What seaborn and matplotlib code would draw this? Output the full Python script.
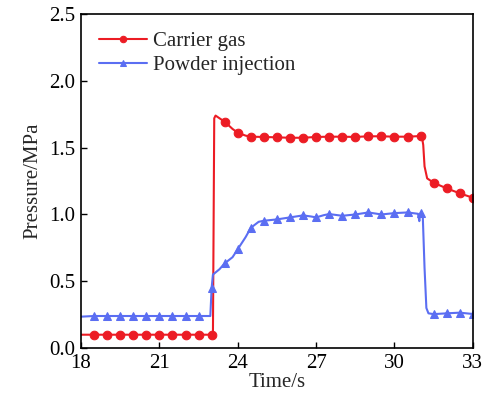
import numpy as np
import pandas as pd
import matplotlib
matplotlib.use("Agg")
import matplotlib.pyplot as plt
import seaborn as sns

# Carrier gas series
t_gas = [18.0, 18.5, 19.0, 19.5, 20.0, 20.5, 21.0, 21.5, 22.0, 22.5, 23.0, 23.05,
         23.1, 23.15, 23.3, 23.5, 23.8, 24.0, 24.3, 24.5, 25.0, 25.5, 26.0, 26.5,
         27.0, 27.5, 28.0, 28.5, 29.0, 29.5, 30.0, 30.5, 31.0, 31.05, 31.1, 31.15,
         31.25, 31.5, 32.0, 32.5, 33.0]
p_gas = [0.10, 0.10, 0.10, 0.10, 0.10, 0.10, 0.10, 0.10, 0.10, 0.10, 0.10, 0.10,
         1.72, 1.74, 1.72, 1.694, 1.64, 1.612, 1.59, 1.582, 1.580, 1.577, 1.574, 1.574,
         1.580, 1.582, 1.582, 1.580, 1.585, 1.585, 1.582, 1.582, 1.587, 1.58, 1.52, 1.36,
         1.27, 1.237, 1.195, 1.158, 1.125]

# Powder injection series
t_pow = [18.0, 18.5, 19.0, 19.5, 20.0, 20.5, 21.0, 21.5, 22.0, 22.5, 22.95, 23.0,
         23.05, 23.3, 23.5, 23.8, 24.0, 24.3, 24.5, 24.8, 25.0, 25.5, 26.0, 26.5,
         26.8, 27.0, 27.3, 27.5, 28.0, 28.5, 29.0, 29.5, 30.0, 30.5, 30.9, 30.95,
         30.98, 31.0, 31.08, 31.15, 31.22, 31.3, 31.5, 32.0, 32.5, 33.0]
p_pow = [0.235, 0.24, 0.24, 0.24, 0.24, 0.24, 0.24, 0.24, 0.24, 0.24, 0.24, 0.45,
         0.55, 0.59, 0.634, 0.68, 0.74, 0.83, 0.90, 0.945, 0.953, 0.963, 0.978, 0.993,
         0.985, 0.978, 0.995, 1.003, 0.99, 1.0, 1.015, 1.0, 1.01, 1.015, 1.005, 0.95,
         1.0, 1.01, 1.0, 0.6, 0.30, 0.26, 0.254, 0.26, 0.265, 0.255]

xticks = [18, 21, 24, 27, 30, 33]
yticks = [0.0, 0.5, 1.0, 1.5, 2.0, 2.5]

sns.set_style("ticks")
plt.rcParams['font.family'] = ['Liberation Serif', 'DejaVu Serif']

red = '#ec1c24'
blue = '#5b6ef2'

fig = plt.figure(figsize=(4.88, 4.01), dpi=100)
ax = fig.add_axes([0.166, 0.132, 0.803, 0.833])

df_gas = pd.DataFrame({'t': t_gas, 'p': p_gas})
df_pow = pd.DataFrame({'t': t_pow, 'p': p_pow})

def mask(ts):
    return [(abs(t * 2 - round(t * 2)) < 1e-9) and t >= 18.5 for t in ts]

sns.lineplot(data=df_gas, x='t', y='p', ax=ax, color=red, lw=1.5, marker='o',
             markersize=6.2, markeredgecolor=red, markevery=mask(t_gas),
             label='Carrier gas', estimator=None, sort=False)
sns.lineplot(data=df_pow, x='t', y='p', ax=ax, color=blue, lw=1.5, marker='^',
             markersize=6.2, markeredgecolor=blue, markevery=mask(t_pow),
             label='Powder injection', estimator=None, sort=False)

ax.set_xlim(18, 33)
ax.set_ylim(0, 2.5)
ax.set_xticks(xticks)
ax.set_yticks(yticks)
ax.set_yticklabels([f"{v:.1f}" for v in yticks])
ax.tick_params(direction='in', length=4, width=1, labelsize=15, colors='black', pad=4)
for s in ax.spines.values():
    s.set_visible(True)
    s.set_linewidth(1.2)
    s.set_color('black')
ax.set_xlabel('Time/s', fontsize=15, labelpad=0)
ax.set_ylabel('Pressure/MPa', fontsize=15, labelpad=5)

leg = ax.legend(loc='upper left', frameon=False, fontsize=15, markerscale=0.75,
                handlelength=2.3, handletextpad=0.3, labelspacing=0.2,
                borderaxespad=0.45, bbox_to_anchor=(0.0, 1.0))

fig.savefig('out.png', dpi=100)
